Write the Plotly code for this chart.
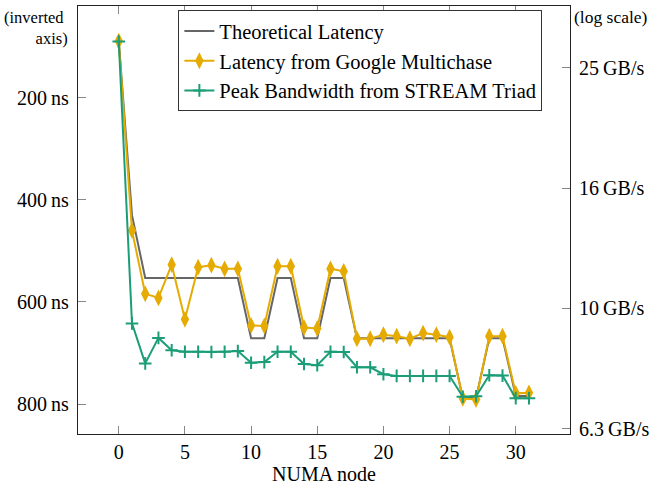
import plotly.graph_objects as go

nodes = list(range(32))
theoretical_ns = [89, 430, 553, 553, 553, 553, 553, 553, 553, 553,
                  671, 671, 553, 553, 671, 671, 553, 553, 671, 671,
                  671, 671, 671, 671, 671, 671, 788, 788, 671, 671,
                  784, 784]
multichase_ns = [89, 460, 584, 592, 527, 634, 532, 528, 535, 535,
                 646, 647, 530, 530, 650, 652, 535, 540, 672, 672,
                 664, 667, 672, 661, 664, 669, 789, 791, 667, 667,
                 779, 778]
stream_gbs = [27.8, 9.44, 8.10, 8.93, 8.52, 8.47, 8.47, 8.46, 8.47, 8.49,
              8.12, 8.14, 8.47, 8.47, 8.08, 8.04, 8.47, 8.46, 7.98, 7.98,
              7.77, 7.72, 7.72, 7.72, 7.72, 7.72, 7.13, 7.14, 7.74, 7.73,
              7.09, 7.09]

lat_ticks = [200, 400, 600, 800]
lat_ticktext = ["200\u2009ns", "400\u2009ns", "600\u2009ns", "800\u2009ns"]
bw_ticks = [10 ** 0.8, 10.0, 10 ** 1.2, 10 ** 1.4]
bw_ticktext = ["6.3\u2009GB/s", "10\u2009GB/s", "16\u2009GB/s", "25\u2009GB/s"]
x_ticks = [0, 5, 10, 15, 20, 25, 30]

GRAY = "#666666"
ORANGE = "#e6ab02"
GREEN = "#1b9e77"
FONT = "Liberation Serif"

fig = go.Figure()
fig.add_trace(go.Scatter(x=nodes, y=theoretical_ns, mode="lines",
                         name="Theoretical Latency",
                         line=dict(color=GRAY, width=2)))
fig.add_trace(go.Scatter(x=nodes, y=multichase_ns, mode="lines+markers",
                         name="Latency from Google Multichase",
                         line=dict(color=ORANGE, width=2),
                         marker=dict(symbol="diamond-tall", size=12, color=ORANGE)))
fig.add_trace(go.Scatter(x=nodes, y=stream_gbs, mode="lines+markers",
                         name="Peak Bandwidth from STREAM Triad", yaxis="y2",
                         line=dict(color=GREEN, width=2),
                         marker=dict(symbol="cross-thin", size=9, color=GREEN,
                                     line=dict(color=GREEN, width=2))))

axis_common = dict(showgrid=False, zeroline=False, showline=True,
                   linecolor="#222222", linewidth=1.2,
                   ticks="inside", ticklen=8, tickcolor="#888888", tickwidth=1,
                   tickfont=dict(family=FONT, size=20, color="black"))

fig.update_layout(
    width=654, height=489,
    margin=dict(l=78, r=79, t=5, b=55),
    paper_bgcolor="white", plot_bgcolor="white",
    font=dict(family=FONT, size=20, color="black"),
    showlegend=True,
    legend=dict(x=0.204, y=0.99, xanchor="left", yanchor="top",
                bgcolor="white", bordercolor="#333333", borderwidth=1,
                font=dict(family=FONT, size=20.5), tracegroupgap=0,
                itemwidth=30),
    xaxis=dict(range=[-3.08, 34.1], tickvals=x_ticks, mirror="ticks",
               title=dict(text="NUMA node", font=dict(family=FONT, size=20), standoff=4),
               **axis_common),
    yaxis=dict(range=[858.6, 20.3], tickvals=lat_ticks, ticktext=lat_ticktext,
               ticklabelstandoff=4, **axis_common),
    yaxis2=dict(overlaying="y", side="right", type="log",
                range=[0.791, 1.503], tickvals=bw_ticks, ticktext=bw_ticktext,
                ticklabelstandoff=4, **axis_common),
    annotations=[
        dict(text="(inverted\u00a0<br>axis)", xref="paper", yref="paper",
             x=-0.016, y=1.0, xanchor="right", yanchor="top", align="right",
             showarrow=False, font=dict(family=FONT, size=16.5)),
        dict(text="(log scale)", xref="paper", yref="paper",
             x=1.004, y=1.002, xanchor="left", yanchor="top", align="left",
             showarrow=False, font=dict(family=FONT, size=17.5)),
    ],
)

fig.write_html("out.html", config={"displayModeBar": False},
               post_script="document.body.style.margin='0';document.body.style.overflow='hidden';")
